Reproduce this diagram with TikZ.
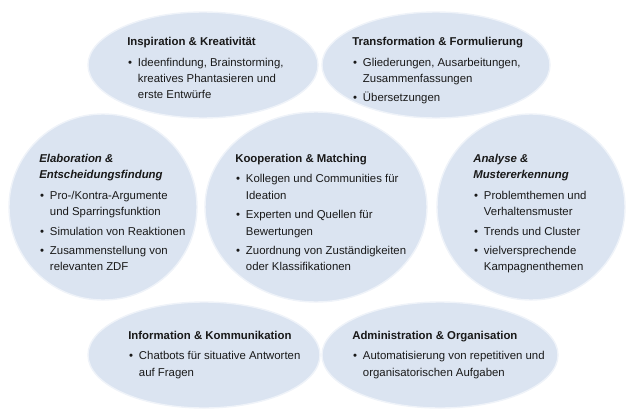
\documentclass[tikz,border=0pt]{standalone}
\usepackage{fontspec}
\setmainfont{Liberation Sans}
\usepackage{xcolor}
\usetikzlibrary{positioning}
\usetikzlibrary{shapes.geometric}

\definecolor{bubblefill}{RGB}{219,228,241}
\definecolor{textgray}{RGB}{25,25,25}

% bullet cell and heading rows
\newcommand{\bul}{\makebox[7.6pt][l]{\hspace{0.6pt}\textbullet}}
\newcommand{\hd}[1]{\multicolumn{2}{@{}l@{}}{\textbf{#1}}}
\newcommand{\hdi}[1]{\multicolumn{2}{@{}l@{}}{\textbf{\textit{#1}}}}

\tikzset{
  bubble/.style={ellipse, fill=bubblefill, draw=bubblefill!45!white, line width=1pt, inner sep=0pt},
  txt/.style={anchor=north west, inner sep=0pt, text=textgray, font=\fontsize{8.1}{11.7}\selectfont}
}

\begin{document}
\begin{tikzpicture}
\useasboundingbox (0,0) rectangle (16,-10.45);

% bubbles
\node [bubble, minimum width=5.75cm, minimum height=2.65cm] (insp) at (5.075,-1.625) {};
\node [bubble, minimum width=5.7cm, minimum height=2.65cm] (trans) at (10.9,-1.625) {};
\node [bubble, minimum width=4.7cm, minimum height=4.65cm] (elab) at (2.575,-5.175) {};
\node [bubble, minimum width=5.55cm, minimum height=4.75cm] (koop) at (7.9,-5.175) {};
\node [bubble, minimum width=4.7cm, minimum height=4.65cm] (anal) at (13.275,-5.175) {};
\node [bubble, minimum width=5.8cm, minimum height=2.65cm] (info) at (5.1,-8.875) {};
\node [bubble, minimum width=5.9cm, minimum height=2.65cm] (admin) at (11.0,-8.875) {};

% texts
\node [txt] (insp-t) at (3.175,-0.84) {\begin{tabular}{@{}l@{}l@{}}
\hd{Inspiration \& Kreativität}\\[3pt]
\bul & Ideenfindung, Brainstorming,\\
 & kreatives Phantasieren und\\
 & erste Entwürfe
\end{tabular}};

\node [txt] (trans-t) at (8.8,-0.84) {\begin{tabular}{@{}l@{}l@{}}
\hd{Transformation \& Formulierung}\\[3pt]
\bul & Gliederungen, Ausarbeitungen,\\
 & Zusammenfassungen\\[2pt]
\bul & Übersetzungen
\end{tabular}};

\node [txt] (elab-t) at (0.975,-3.7625) {\begin{tabular}{@{}l@{}l@{}}
\hdi{Elaboration \&}\\
\hdi{Entscheidungsfindung}\\[3pt]
\bul & Pro-/Kontra-Argumente\\
 & und Sparringsfunktion\\[2pt]
\bul & Simulation von Reaktionen\\[2pt]
\bul & Zusammenstellung von\\
 & relevanten ZDF
\end{tabular}};

\node [txt] (koop-t) at (5.875,-3.7625) {\begin{tabular}{@{}l@{}l@{}}
\hd{Kooperation \& Matching}\\[3pt]
\bul & Kollegen und Communities für\\
 & Ideation\\[2pt]
\bul & Experten und Quellen für\\
 & Bewertungen\\[2pt]
\bul & Zuordnung von Zuständigkeiten\\
 & oder Klassifikationen
\end{tabular}};

\node [txt] (anal-t) at (11.825,-3.7625) {\begin{tabular}{@{}l@{}l@{}}
\hdi{Analyse \&}\\
\hdi{Mustererkennung}\\[3pt]
\bul & Problemthemen und\\
 & Verhaltensmuster\\[2pt]
\bul & Trends und Cluster\\[2pt]
\bul & vielversprechende\\
 & Kampagnenthemen
\end{tabular}};

\node [txt] (info-t) at (3.2,-8.1875) {\begin{tabular}{@{}l@{}l@{}}
\hd{Information \& Kommunikation}\\[3pt]
\bul & Chatbots für situative Antworten\\
 & auf Fragen
\end{tabular}};

\node [txt] (admin-t) at (8.8,-8.1875) {\begin{tabular}{@{}l@{}l@{}}
\hd{Administration \& Organisation}\\[3pt]
\bul & Automatisierung von repetitiven und\\
 & organisatorischen Aufgaben
\end{tabular}};
\end{tikzpicture}
\end{document}
